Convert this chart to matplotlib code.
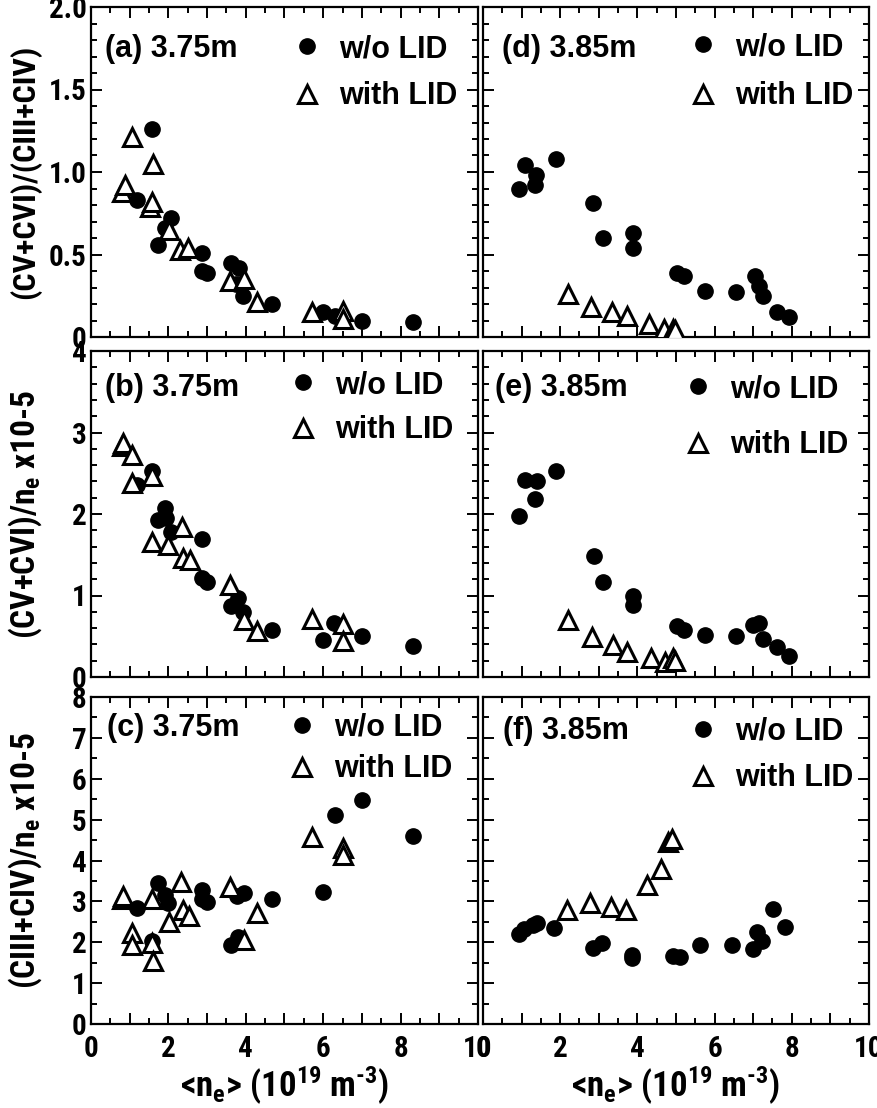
import matplotlib
matplotlib.use("Agg")
import matplotlib.pyplot as plt
from matplotlib import font_manager as fm
from matplotlib.ticker import MultipleLocator, FuncFormatter
from matplotlib.lines import Line2D

# --- data: ne (1e19 m^-3) vs line ratios ---
# (a) (CV+CVI)/(CIII+CIV), Rax = 3.75 m
a_wo_x = [1.18, 1.57, 1.74, 1.91, 2.08, 2.86, 2.86, 2.99, 3.61, 3.75, 3.83, 3.94, 4.67, 6.00, 6.30, 7.00, 8.31]
a_wo_y = [0.83, 1.26, 0.56, 0.66, 0.72, 0.51, 0.40, 0.39, 0.45, 0.32, 0.42, 0.25, 0.20, 0.15, 0.13, 0.10, 0.09]
a_with_x = [0.80, 0.88, 1.05, 1.52, 1.57, 1.61, 2.02, 2.30, 2.51, 3.59, 3.95, 4.28, 5.70, 6.52, 6.52]
a_with_y = [0.88, 0.92, 1.21, 0.79, 0.82, 1.05, 0.65, 0.53, 0.54, 0.34, 0.35, 0.21, 0.15, 0.16, 0.11]

# (b) (CV+CVI)/ne, 3.75 m
b_wo_x = [1.18, 1.57, 1.74, 1.91, 1.94, 2.08, 2.86, 2.86, 2.99, 3.61, 3.81, 3.94, 4.67, 5.99, 6.29, 6.99, 8.31]
b_wo_y = [2.36, 2.53, 1.93, 2.07, 1.95, 1.78, 1.69, 1.22, 1.16, 0.87, 0.97, 0.80, 0.58, 0.45, 0.66, 0.50, 0.38]
b_with_x = [0.80, 0.83, 1.05, 1.05, 1.57, 1.57, 2.00, 2.34, 2.38, 2.55, 3.59, 3.95, 4.28, 5.70, 6.52, 6.52]
b_with_y = [2.83, 2.87, 2.73, 2.38, 2.47, 1.66, 1.62, 1.84, 1.46, 1.43, 1.13, 0.70, 0.56, 0.71, 0.65, 0.44]

# (c) (CIII+CIV)/ne, 3.75 m
c_wo_x = [1.18, 1.57, 1.74, 1.91, 2.00, 2.86, 2.86, 2.99, 3.61, 3.76, 3.81, 3.95, 4.67, 5.99, 6.30, 6.99, 8.31]
c_wo_y = [2.83, 2.02, 3.44, 3.16, 2.95, 3.29, 3.05, 2.98, 1.93, 3.12, 2.12, 3.20, 3.06, 3.22, 5.11, 5.48, 4.60]
c_with_x = [0.80, 0.83, 1.05, 1.05, 1.57, 1.57, 1.61, 2.02, 2.32, 2.39, 2.53, 3.59, 3.95, 4.28, 5.70, 6.52, 6.52]
c_with_y = [3.05, 3.13, 2.23, 1.93, 3.07, 1.97, 1.55, 2.50, 3.48, 2.79, 2.63, 3.36, 2.05, 2.71, 4.58, 4.30, 4.13]

# (d) (CV+CVI)/(CIII+CIV), Rax = 3.85 m
d_wo_x = [0.94, 1.09, 1.35, 1.37, 1.88, 2.86, 3.10, 3.88, 3.88, 5.03, 5.20, 5.74, 6.56, 7.05, 7.16, 7.25, 7.62, 7.94]
d_wo_y = [0.90, 1.04, 0.92, 0.98, 1.08, 0.81, 0.60, 0.63, 0.54, 0.39, 0.37, 0.28, 0.27, 0.37, 0.31, 0.25, 0.15, 0.12]
d_with_x = [2.19, 2.80, 3.34, 3.72, 4.29, 4.70, 4.92, 4.98]
d_with_y = [0.26, 0.18, 0.15, 0.13, 0.08, 0.05, 0.05, 0.04]

# (e) (CV+CVI)/ne, 3.85 m
e_wo_x = [0.94, 1.09, 1.35, 1.39, 1.88, 2.88, 3.10, 3.88, 3.88, 5.03, 5.20, 5.74, 6.56, 7.00, 7.16, 7.25, 7.62, 7.94]
e_wo_y = [1.98, 2.42, 2.19, 2.40, 2.53, 1.48, 1.17, 0.99, 0.88, 0.63, 0.58, 0.52, 0.50, 0.64, 0.66, 0.47, 0.37, 0.26]
e_with_x = [2.21, 2.82, 3.36, 3.74, 4.36, 4.72, 4.92, 4.98]
e_with_y = [0.70, 0.49, 0.39, 0.31, 0.23, 0.18, 0.23, 0.20]

# (f) (CIII+CIV)/ne, 3.85 m
f_wo_x = [0.92, 1.05, 1.30, 1.39, 1.85, 2.84, 3.09, 3.85, 3.85, 4.93, 5.10, 5.62, 6.45, 7.00, 7.11, 7.22, 7.51, 7.82]
f_wo_y = [2.20, 2.32, 2.42, 2.46, 2.34, 1.85, 1.97, 1.69, 1.61, 1.66, 1.63, 1.93, 1.93, 1.83, 2.24, 2.03, 2.81, 2.38]
f_with_x = [2.17, 2.77, 3.31, 3.70, 4.26, 4.60, 4.78, 4.89]
f_with_y = [2.80, 2.97, 2.87, 2.79, 3.40, 3.78, 4.46, 4.52]

panel_tags = ["(a) 3.75m", "(b) 3.75m", "(c) 3.75m", "(d) 3.85m", "(e) 3.85m", "(f) 3.85m"]
row_ylabels = ["(CV+CVI)/(CIII+CIV)", r"(CV+CVI)/n$_{\rm e}$ x10-5", r"(CIII+CIV)/n$_{\rm e}$ x10-5"]
xlabel = r"<n$_{\rm e}$> (10$^{\rm 19}$ m$^{\text{-3}}$)"

# --- fonts: the axis text in the original is a condensed bold sans ---
fonts = fm.fontManager.ttflist
narrow_fam, narrow_stretch = None, 'normal'
for name in ['Liberation Sans Narrow', 'Roboto Condensed', 'Open Sans Condensed', 'DejaVu Sans Condensed']:
    if any(f.name == name for f in fonts):
        narrow_fam = name
        break
if narrow_fam is None and any(f.name == 'DejaVu Sans' and str(f.stretch) in ('condensed', 'semi-condensed') for f in fonts):
    narrow_fam, narrow_stretch = 'DejaVu Sans', 'condensed'
if narrow_fam is None:
    narrow_fam = 'Liberation Sans'
scale = 1.0 if narrow_fam != 'Liberation Sans' else 0.88

plt.rcParams['font.family'] = [narrow_fam, 'Liberation Sans', 'DejaVu Sans']
plt.rcParams['font.stretch'] = narrow_stretch
plt.rcParams['font.weight'] = 'bold'
plt.rcParams['mathtext.fontset'] = 'custom'
mt = f"{narrow_fam}:bold" + (":condensed" if narrow_stretch == 'condensed' else "")
plt.rcParams['mathtext.rm'] = mt
plt.rcParams['mathtext.it'] = mt
plt.rcParams['mathtext.bf'] = mt
plt.rcParams['mathtext.default'] = 'rm'
WIDE = ['Liberation Sans', 'DejaVu Sans']

W, H = 878, 1108
fig = plt.figure(figsize=(W / 100, H / 100), dpi=100)

cols = [(91, 387), (483, 386)]
rows = [(7, 337), (351, 677), (697, 1024)]
ylims = [2.0, 4.0, 8.0]
ymajor = [0.5, 1.0, 1.0]
yminor = [0.1, 0.2, 0.5]
ylabel_size = [23, 24, 24]

data = [
    [(a_wo_x, a_wo_y, a_with_x, a_with_y), (b_wo_x, b_wo_y, b_with_x, b_with_y), (c_wo_x, c_wo_y, c_with_x, c_with_y)],
    [(d_wo_x, d_wo_y, d_with_x, d_with_y), (e_wo_x, e_wo_y, e_with_x, e_with_y), (f_wo_x, f_wo_y, f_with_x, f_with_y)],
]

# legend placement per panel: (row-1 centre below top px, row gap px, marker x px)
leg_pos = [[(42, 46, 307), (34, 44, 303), (31, 40, 302)],
           [(40, 48, 703), (38, 55, 698), (35, 45, 703)]]
tag_pos = [[(14, 42), (14, 37), (16, 31)],
           [(19, 42), (12, 37), (20, 34)]]


def xfmt(v, p):
    n = int(round(v))
    return str(n) if n % 2 == 0 else ''


circ = dict(ls='none', marker='o', ms=11, color='black')
tri = dict(ls='none', marker='^', ms=13, mfc='white', mec='black', mew=2.2)

for ci, (x0, w) in enumerate(cols):
    for ri, (top, bot) in enumerate(rows):
        h = bot - top
        ax = fig.add_axes([x0 / W, 1 - bot / H, w / W, h / H])
        wx, wy, tx, ty = data[ci][ri]
        ax.plot(wx, wy, **circ, zorder=3)
        ax.plot(tx, ty, **tri, zorder=4)
        ax.set_xlim(0, 10)
        ax.set_ylim(0, ylims[ri])
        ax.xaxis.set_major_locator(MultipleLocator(1))
        ax.xaxis.set_minor_locator(MultipleLocator(0.5))
        ax.yaxis.set_major_locator(MultipleLocator(ymajor[ri]))
        ax.yaxis.set_minor_locator(MultipleLocator(yminor[ri]))
        ax.xaxis.set_major_formatter(FuncFormatter(xfmt))
        if ri == 0:
            ax.yaxis.set_major_formatter(FuncFormatter(lambda v, p: '0' if abs(v) < 1e-9 else f'{v:.1f}'))
        else:
            ax.yaxis.set_major_formatter(FuncFormatter(lambda v, p: f'{int(round(v))}'))
        ax.tick_params(which='both', direction='in', top=True, right=True, width=1.4, colors='black')
        ax.tick_params(which='major', length=8, labelsize=21 * scale, pad=3)
        ax.tick_params(which='minor', length=4.5)
        ax.tick_params(axis='x', which='major', pad=8)
        if ri < 2:
            ax.tick_params(axis='x', labelbottom=False)
        if ci == 1:
            ax.tick_params(axis='y', labelleft=False)
        for s in ax.spines.values():
            s.set_linewidth(1.6)

        tx_px, ty_px = tag_pos[ci][ri]
        ax.text(tx_px / w, 1 - ty_px / h, panel_tags[ci * 3 + ri], transform=ax.transAxes,
                ha='left', va='center', fontsize=22, fontweight='bold', family=WIDE,
                fontstretch='normal')

        cy, gap, mx = leg_pos[ci][ri]
        handles = [Line2D([], [], **circ), Line2D([], [], **tri)]
        ax.legend(handles, ['w/o LID', 'with LID'], loc='upper left',
                  bbox_to_anchor=((mx - 15 - x0) / w, 1 - (cy - 15) / h),
                  frameon=False, borderpad=0, borderaxespad=0, handlelength=1.0,
                  handletextpad=0.53, labelspacing=(gap - 29) / 30, numpoints=1,
                  prop=dict(size=22, weight='bold', family=WIDE, stretch='normal'))

        if ri == 2:
            ax.set_xlabel(xlabel, fontsize=25 * scale, fontweight='bold', labelpad=1)
        if ci == 0:
            fig.text(25 / W, 1 - (top + bot) / 2 / H, row_ylabels[ri], rotation=90,
                     ha='center', va='center', fontsize=ylabel_size[ri] * scale, fontweight='bold')

fig.savefig('out.png', dpi=100)
